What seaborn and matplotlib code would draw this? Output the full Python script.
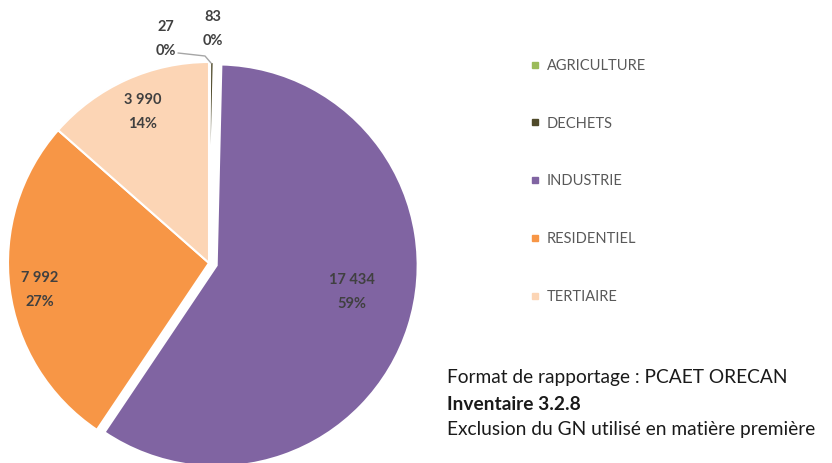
import numpy as np
import matplotlib
matplotlib.use("Agg")
import matplotlib.pyplot as plt
from matplotlib.lines import Line2D
import seaborn as sns

categories = ["AGRICULTURE", "DECHETS", "INDUSTRIE", "RESIDENTIEL", "TERTIAIRE"]
values = [27, 83, 17434, 7992, 3990]
value_labels = ["27", "83", "17 434", "7 992", "3 990"]
pct_labels = ["0%", "0%", "59%", "27%", "14%"]
notes = ["Format de rapportage : PCAET ORECAN", "Inventaire 3.2.8",
         "Exclusion du GN utilisé en matière première"]

colors = sns.color_palette(["#9BBB59", "#4F4A2A", "#8064A2", "#F79646", "#FCD5B5"])

sns.set_theme(style="white")
plt.rcParams['font.family'] = ['Lato', 'DejaVu Sans']

W, H = 832, 463
fig = plt.figure(figsize=(W / 100, H / 100), dpi=100)
fig.patch.set_facecolor("white")

cx, cy, R = 209, 263, 201
ax = fig.add_axes([(cx - R) / W, (H - cy - R) / H, 2 * R / W, 2 * R / H])
explode = [0, 0, 0.04, 0, 0]
wedges, _ = ax.pie(values, colors=colors, startangle=90, counterclock=False,
                   explode=explode, radius=1,
                   wedgeprops=dict(edgecolor="white", linewidth=1.5))
for w in wedges:
    w.set_clip_on(False)
ax.set_xlim(-1, 1)
ax.set_ylim(-1, 1)
ax.set_aspect("equal")
ax.axis("off")

def p2d(px, py):
    return ((px - cx) / R, (cy - py) / R)

label_color = "#404040"
label_px = [(166, 39), (213, 29), (352, 292), (40, 290), (143, 112)]
for i, (px, py) in enumerate(label_px):
    ax.text(*p2d(px, py), value_labels[i] + "\n" + pct_labels[i], ha="center", va="center",
            fontsize=10.5, fontweight="bold", color=label_color, linespacing=1.9)

pts = np.array([p2d(178, 53), p2d(205, 56), p2d(211, 63)])
ax.add_line(Line2D(pts[:, 0], pts[:, 1], color="#A6A6A6", lw=1, clip_on=False))

handles = [Line2D([0], [0], marker="s", linestyle="none", markersize=5,
                  markerfacecolor=c, markeredgecolor=c) for c in colors]
leg = fig.legend(handles, categories, loc="upper left",
                 bbox_to_anchor=(525 / W, 1 - 53 / H), frameon=False,
                 fontsize=10.5, labelspacing=3.0, handlelength=0.6,
                 handletextpad=0.5, borderaxespad=0)
for t in leg.get_texts():
    t.set_color("#595959")

ys = [378, 404, 430]
for i, (s, y) in enumerate(zip(notes, ys)):
    fig.text(447 / W, 1 - y / H, s, ha="left", va="center", fontsize=13.8,
             color="#1a1a1a", fontweight="bold" if i == 1 else "normal")

fig.savefig("out.png", dpi=100, facecolor="white")
